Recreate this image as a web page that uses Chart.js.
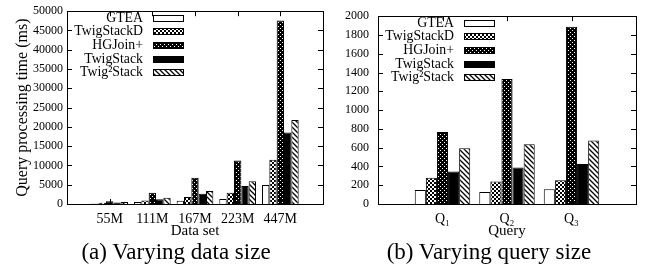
<!DOCTYPE html>
<html>
<head>
<meta charset="utf-8">
<script src="https://cdn.jsdelivr.net/npm/chart.js@4.4.1/dist/chart.umd.min.js"></script>
<style>
  body { margin: 0; background: #fff; }
  #wrap { position: relative; width: 649px; height: 268px; }
  canvas { position: absolute; top: 0; }
  .cap { position: absolute; top: 239px; width: 300px; text-align: center; color: #000;
         font: 23px 'Liberation Serif', 'Times New Roman', serif; line-height: 26px; }
</style>
</head>
<body>
<div id="wrap">
  <canvas id="sizeChart" width="330" height="240" style="left:0"></canvas>
  <canvas id="queryChart" width="319" height="240" style="left:330px"></canvas>
  <div class="cap" style="left:26px">(a) Varying data size</div>
  <div class="cap" style="left:339px">(b) Varying query size</div>
</div>
<script>
const seriesNames = ['GTEA', 'TwigStackD', 'HGJoin+', 'TwigStack', 'Twig²Stack'];

// (a) varying data size
const dataSizes = ['55M', '111M', '167M', '223M', '447M'];
const sizeGTEA = [150, 500, 850, 1300, 4900];
const sizeTwigStackD = [350, 900, 1800, 2900, 11450];
const sizeHGJoin = [700, 2900, 6800, 11300, 47600];
const sizeTwigStack = [400, 1200, 2650, 4700, 18550];
const sizeTwig2Stack = [550, 1600, 3400, 5900, 21800];
const sizeYMax = 50000;
const sizeYStep = 5000;

// (b) varying query size
const queries = ['Q₁', 'Q₂', 'Q₃'];
const queryGTEA = [150, 127, 157];
const queryTwigStackD = [280, 240, 253];
const queryHGJoin = [766, 1330, 1887];
const queryTwigStack = [345, 390, 427];
const queryTwig2Stack = [595, 636, 677];
const queryYMax = 2000;
const queryYStep = 200;

const SERIF = "'Liberation Serif', 'Times New Roman', serif";
Chart.defaults.font.family = SERIF;
Chart.defaults.color = '#000';

function tile(size, draw) {
    const c = document.createElement('canvas');
    c.width = c.height = size;
    const g = c.getContext('2d');
    draw(g, size);
    return g.createPattern(c, 'repeat');
}

// gnuplot-ish fill patterns
const fills = [
    '#fff',
    tile(4, g => {
        g.fillStyle = '#fff'; g.fillRect(0, 0, 4, 4);
        g.fillStyle = '#000'; g.fillRect(2, 0, 2, 2); g.fillRect(0, 2, 2, 2);
    }),
    tile(4, g => {
        g.fillStyle = '#000'; g.fillRect(0, 0, 4, 4);
        g.fillStyle = '#fff'; g.fillRect(0, 0, 1, 1); g.fillRect(2, 2, 1, 1);
    }),
    '#000',
    tile(5, (g, s) => {
        g.fillStyle = '#fff'; g.fillRect(0, 0, s, s);
        g.strokeStyle = '#000'; g.lineWidth = 1.3;
        g.beginPath();
        [-s, 0, s].forEach(o => { g.moveTo(o - 1, -1); g.lineTo(o + s + 1, s + 1); });
        g.stroke();
    }),
];

// frame, inward ticks and the in-plot legend
const gnuplotFrame = {
    id: 'gnuplotFrame',
    afterDraw(chart) {
        const { ctx, chartArea: a, scales: { x, y } } = chart;
        ctx.save();
        ctx.strokeStyle = '#000';
        ctx.lineWidth = 1;
        ctx.beginPath();
        y.ticks.forEach(t => {
            const py = Math.round(y.getPixelForValue(t.value)) + 0.5;
            ctx.moveTo(a.left, py); ctx.lineTo(a.left + 5, py);
            ctx.moveTo(a.right, py); ctx.lineTo(a.right - 5, py);
        });
        chart.data.labels.forEach((lab, i) => {
            if (!lab) return;
            const px = Math.round(x.getPixelForValue(i)) + 0.5;
            ctx.moveTo(px, a.bottom); ctx.lineTo(px, a.bottom - 5);
            ctx.moveTo(px, a.top); ctx.lineTo(px, a.top + 5);
        });
        ctx.stroke();
        ctx.strokeRect(Math.round(a.left) + 0.5, Math.round(a.top) + 0.5,
            Math.round(a.right - a.left), Math.round(a.bottom - a.top));

        ctx.font = '13.8px ' + SERIF;
        ctx.textAlign = 'right';
        ctx.textBaseline = 'middle';
        chart.data.datasets.forEach((ds, i) => {
            const ly = a.top + 7 + i * 13.6;
            ctx.fillStyle = '#000';
            ctx.fillText(ds.label, a.left + 76, ly);
            const bx = Math.round(a.left + 86), by = Math.round(ly - 3.5);
            ctx.fillStyle = ds.backgroundColor;
            ctx.fillRect(bx, by, 31, 7);
            ctx.strokeRect(bx + 0.5, by + 0.5, 30, 6);
        });
        ctx.restore();
    },
};

function makeDatasets(series) {
    return series.map((vals, i) => ({
        label: seriesNames[i],
        data: [null, ...vals, null],
        backgroundColor: fills[i],
        borderColor: '#000',
        borderWidth: 1,
        categoryPercentage: 0.86,
        barPercentage: 1,
    }));
}

function makeChart(id, cats, series, o) {
    new Chart(document.getElementById(id), {
        type: 'bar',
        data: { labels: ['', ...cats, ''], datasets: makeDatasets(series) },
        options: {
            responsive: false,
            animation: false,
            layout: { padding: { top: 9, right: o.rightPad, left: 0, bottom: 0 } },
            plugins: { legend: { display: false }, tooltip: { enabled: false } },
            scales: {
                x: {
                    offset: false,
                    grid: { display: false, drawTicks: false },
                    border: { display: false },
                    ticks: { autoSkip: false, maxRotation: 0, padding: 7, font: { size: 14 } },
                    title: { display: true, text: o.xTitle, font: { size: 15 }, padding: { top: 0, bottom: 0 } },
                    afterFit: s => { s.height = 36; },
                },
                y: {
                    min: 0,
                    max: o.yMax,
                    grid: { display: false, drawTicks: false },
                    border: { display: false },
                    ticks: { stepSize: o.yStep, padding: o.yPad, font: { size: 12 }, callback: v => String(v) },
                    title: { display: !!o.yTitle, text: o.yTitle, font: { size: 16 }, padding: { top: 13, bottom: 0 } },
                    afterFit: s => { s.width = o.yWidth; },
                },
            },
        },
        plugins: [gnuplotFrame],
    });
}

makeChart('sizeChart', dataSizes,
    [sizeGTEA, sizeTwigStackD, sizeHGJoin, sizeTwigStack, sizeTwig2Stack],
    { yMax: sizeYMax, yStep: sizeYStep, yTitle: 'Query processing time (ms)', xTitle: 'Data set',
      yWidth: 67, yPad: 4, rightPad: 5 });

makeChart('queryChart', queries,
    [queryGTEA, queryTwigStackD, queryHGJoin, queryTwigStack, queryTwig2Stack],
    { yMax: queryYMax, yStep: queryYStep, yTitle: '', xTitle: 'Query',
      yWidth: 48, yPad: 9, rightPad: 13 });
</script>
</body>
</html>
